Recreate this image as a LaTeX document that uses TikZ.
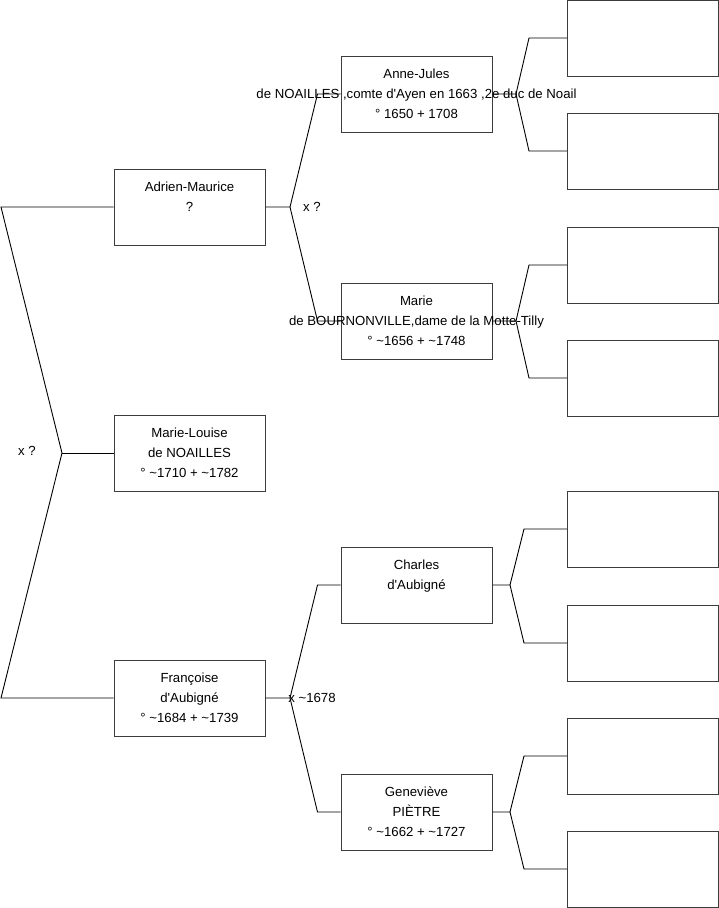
\documentclass[tikz,border=0pt]{standalone}
\usepackage{fontspec}
\usepackage{tikz}
\newfontfamily\treefont{Liberation Sans}
\definecolor{boxline}{HTML}{3C3C3C}
\tikzset{
  person/.style={draw=boxline, fill=white, line width=1pt, minimum width=151, minimum height=76,
    inner sep=0pt, align=center, font=\treefont\fontsize{13.2}{20}\selectfont},
  link/.style={draw=black, line width=0.9pt},
  union/.style={inner sep=0pt, font=\treefont\fontsize{13.2}{20}\selectfont}
}
% a line that may run past the box
\newcommand\wideline[1]{\makebox[0pt]{#1}}

\begin{document}
\begin{tikzpicture}[x=1pt,y=-1pt]
\useasboundingbox (0,0) rectangle (719,908);
% generation 1 and 2
\node[person] (adrien) at (189.5,207) {Adrien-Maurice\\?\\\mbox{}};
\node[person] (marielouise) at (189.5,453) {Marie-Louise\\de NOAILLES\\° \textasciitilde1710 + \textasciitilde1782};
\node[person] (francoise) at (189.5,698) {Françoise\\d'Aubigné\\° \textasciitilde1684 + \textasciitilde1739};
% generation 3
\node[person] (annejules) at (416.5,94) {Anne-Jules\\\wideline{de NOAILLES ,comte d'Ayen en 1663 ,2e duc de Noail}\\° 1650 + 1708};
\node[person] (marie) at (416.5,321) {Marie\\\wideline{de BOURNONVILLE,dame de la Motte-Tilly}\\° \textasciitilde1656 + \textasciitilde1748};
\node[person] (charles) at (416.5,585) {Charles\\d'Aubigné\\\mbox{}};
\node[person] (genevieve) at (416.5,812) {Geneviève\\PIÈTRE\\° \textasciitilde1662 + \textasciitilde1727};
% unknown ancestors
\foreach \i/\y in {1/38,2/151,3/265,4/378,5/529,6/643,7/756,8/869}
  \node[person] (anc\i) at (643,\y) {};

% junctions
\coordinate (jroot) at (62,453);
\coordinate (jtop) at (1,207);
\coordinate (jbot) at (1,698);
\coordinate (jadrien) at (290,207);
\coordinate (jfrancoise) at (290,698);
\coordinate (jannejules) at (516,94);
\coordinate (jmarie) at (516,321);
\coordinate (jcharles) at (510,585);
\coordinate (jgenevieve) at (510,812);

\draw[link] (adrien.west) -- (jtop) -- (jroot) -- (jbot) -- (francoise.west);
\draw[link] (jroot) -- (marielouise.west);
\draw[link] (adrien.east) -- (jadrien) -- ([xshift=-23]annejules.west) -- (annejules.west);
\draw[link] (jadrien) -- ([xshift=-23]marie.west) -- (marie.west);
\draw[link] (francoise.east) -- (jfrancoise) -- ([xshift=-23]charles.west) -- (charles.west);
\draw[link] (jfrancoise) -- ([xshift=-23]genevieve.west) -- (genevieve.west);
\draw[link] (annejules.east) -- (jannejules) -- ([xshift=-38]anc1.west) -- (anc1.west);
\draw[link] (jannejules) -- ([xshift=-38]anc2.west) -- (anc2.west);
\draw[link] (marie.east) -- (jmarie) -- ([xshift=-38]anc3.west) -- (anc3.west);
\draw[link] (jmarie) -- ([xshift=-38]anc4.west) -- (anc4.west);
\draw[link] (charles.east) -- (jcharles) -- ([xshift=-43]anc5.west) -- (anc5.west);
\draw[link] (jcharles) -- ([xshift=-43]anc6.west) -- (anc6.west);
\draw[link] (genevieve.east) -- (jgenevieve) -- ([xshift=-43]anc7.west) -- (anc7.west);
\draw[link] (jgenevieve) -- ([xshift=-43]anc8.west) -- (anc8.west);

% marriages
\node[union] (mroot) at (27,451) {x ?};
\node[union] (madrien) at (312,207) {x ?};
\node[union] (mfrancoise) at (312,698) {x \textasciitilde1678};
\end{tikzpicture}
\end{document}
